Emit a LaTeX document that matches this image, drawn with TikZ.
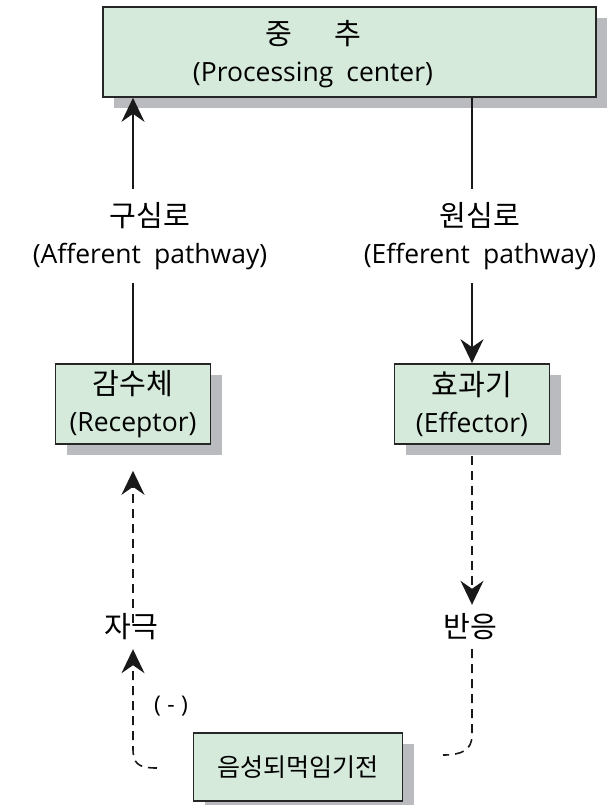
\documentclass[tikz,border=0pt]{standalone}
\usepackage{fontspec}
\setmainfont{Open Sans}[WordSpace=1.9]
\newfontfamily\kr{Noto Sans CJK KR}[Scale=1.1]
\usetikzlibrary{arrows.meta,shadows}
\definecolor{boxgreen}{RGB}{213,234,219}
\definecolor{shadowgray}{RGB}{186,187,191}
\begin{document}
\begin{tikzpicture}[x=1pt,y=-1pt,
  box/.style={draw=black!85, line width=1.6pt, fill=boxgreen,
    general shadow={fill=shadowgray, shadow xshift=11pt, shadow yshift=-11pt},
    inner sep=0pt, align=center, font=\fontsize{26.5}{37}\selectfont},
  lbl/.style={align=center, font=\fontsize{26.5}{37}\selectfont, inner sep=0pt},
  conn/.style={line width=1.6pt, draw=black!90},
  dconn/.style={conn, dash pattern=on 9pt off 6pt},
  tip/.style={-{Stealth[length=24pt,width=23pt,inset=8pt]}}
]
\useasboundingbox (0,0) rectangle (610,805);

\node[box, minimum width=493pt, minimum height=90pt] (top) at (349.5,52) {};
\node[lbl] (toptext) at (313,54) {{\kr 중\hspace{1.45em}추}\\(Processing center)};

\node[box, minimum width=155pt, minimum height=80pt] (rec) at (133,404) {{\kr 감수체}\\(Receptor)};
\node[box, minimum width=155pt, minimum height=80pt] (eff) at (472,404) {{\kr 효과기}\\(Effector)};
\node[box, minimum width=209pt, minimum height=68pt, font=\fontsize{22.8}{30}\selectfont] (nfb) at (298,767) {\kr 음성되먹임기전};

\node[lbl, minimum height=94pt] (aff) at (150,236) {{\kr 구심로}\\(Afferent pathway)};
\node[lbl, minimum height=94pt] (efl) at (480,236) {{\kr 원심로}\\(Efferent pathway)};

\node[lbl, minimum height=44pt] (stim) at (131,627) {\kr 자극};
\node[lbl, minimum height=44pt] (resp) at (470,627) {\kr 반응};
\node[lbl, font=\fontsize{23}{27}\selectfont] (minus) at (171,706) {(\;-\;)};

\coordinate (fbl) at (157,768);
\coordinate (fbr) at (443,755);

% solid pathways
\draw[conn] (rec.north) -- (rec.north |- aff.south);
\draw[conn, tip] (rec.north |- aff.north) -- (rec.north |- top.south);
\draw[conn] (top.south -| eff.north) -- (eff.north |- efl.north);
\draw[conn, tip] (eff.north |- efl.south) -- (eff.north);

% dashed pathways
\draw[dconn, tip, shorten <=-18pt, shorten >=26pt] (rec.south |- stim.north) -- (rec.south);
\draw[dconn, tip, shorten <=11pt] (eff.south) -- (eff.south |- resp.north);
\draw[dconn, tip] (fbl) .. controls (137,768) and (133,763) .. (133,748) -- (rec.south |- stim.south);
\draw[dconn] (eff.south |- resp.south) -- (472,735) .. controls (472,750) and (462,755) .. (fbr);
\end{tikzpicture}
\end{document}
